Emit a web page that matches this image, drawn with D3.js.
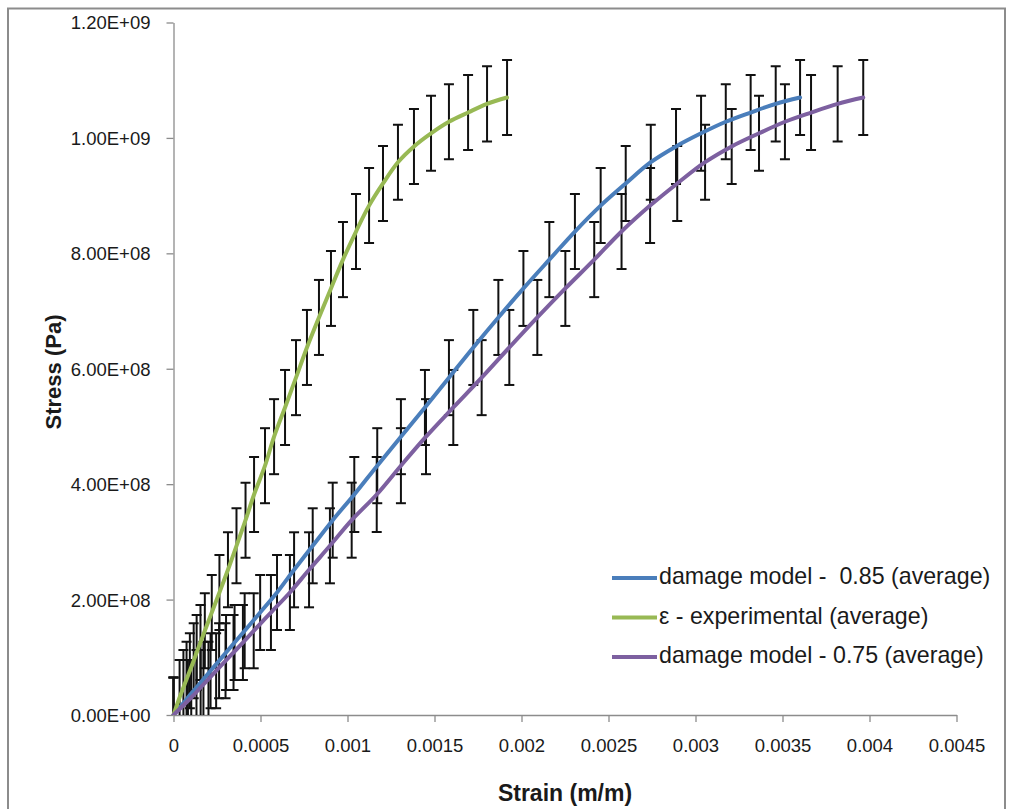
<!DOCTYPE html>
<html>
<head>
<meta charset="utf-8">
<script src="https://cdn.jsdelivr.net/npm/d3@7"></script>
<style>
  html, body { margin: 0; padding: 0; background: #ffffff; }
  svg { display: block; font-family: "Liberation Sans", Arial, sans-serif; }
</style>
</head>
<body>
<svg id="chart" width="1013" height="809"></svg>
<script>
// Shared stress levels (Pa) reached at each load step
const stress = [
  0, 0.303e8, 0.477e8, 0.620e8, 0.766e8, 0.939e8, 1.083e8, 1.256e8, 1.459e8,
  1.776e8, 2.123e8, 2.516e8, 2.932e8, 3.376e8, 3.821e8, 4.320e8, 4.823e8,
  5.329e8, 5.846e8, 6.369e8, 6.889e8, 7.392e8, 7.891e8, 8.378e8, 8.827e8,
  9.211e8, 9.579e8, 9.853e8, 10.08e8, 10.28e8, 10.44e8, 10.59e8, 10.70e8
];

// Average strain (m/m) at each stress level
const strainModel085 = [
  0, 0.000083, 0.000132, 0.000172, 0.000213, 0.000262, 0.000302, 0.000351,
  0.000409, 0.000498, 0.000595, 0.000693, 0.000800, 0.000915, 0.001039,
  0.001171, 0.001307, 0.001445, 0.001583, 0.001723, 0.001867, 0.002011,
  0.002160, 0.002307, 0.002455, 0.002599, 0.002743, 0.002888, 0.003032,
  0.003174, 0.003317, 0.003461, 0.003601
];
const strainExperimental = [
  0, 0.000035, 0.000057, 0.000075, 0.000094, 0.000116, 0.000133, 0.000155,
  0.000180, 0.000220, 0.000264, 0.000313, 0.000362, 0.000414, 0.000463,
  0.000526, 0.000578, 0.000641, 0.000704, 0.000767, 0.000836, 0.000905,
  0.000974, 0.001049, 0.001124, 0.001204, 0.001290, 0.001382, 0.001480,
  0.001583, 0.001693, 0.001802, 0.001917
];
const strainModel075 = [
  0, 0.000102, 0.000156, 0.000201, 0.000245, 0.000299, 0.000345, 0.000399,
  0.000461, 0.000560, 0.000669, 0.000779, 0.000899, 0.001024, 0.001168,
  0.001307, 0.001451, 0.001608, 0.001771, 0.001930, 0.002091, 0.002252,
  0.002418, 0.002575, 0.002739, 0.002895, 0.003055, 0.003208, 0.003365,
  0.003514, 0.003664, 0.003817, 0.003964
];

// Fixed stress error (Pa) shown on every point
const stressError = 6.5e7;

const seriesNames = [
  "damage model -  0.85 (average)",
  "\u03b5 - experimental (average)",
  "damage model - 0.75 (average)"
];
const seriesColors = ["#4a7ebb", "#98b954", "#7d60a0"];

const xTicks = [0, 0.0005, 0.001, 0.0015, 0.002, 0.0025, 0.003, 0.0035, 0.004, 0.0045];
const yTicks = [0, 2e8, 4e8, 6e8, 8e8, 10e8, 12e8];

const xTitle = "Strain (m/m)";
const yTitle = "Stress (Pa)";

// ---- layout ----
const plot = { left: 173.5, right: 956.5, top: 22.5, bottom: 715 };
const W = plot.right - plot.left, H = plot.bottom - plot.top;

const svg = d3.select("#chart");

// outer chart frame
svg.append("rect")
  .attr("x", 8).attr("y", 8.5)
  .attr("width", 997).attr("height", 820)
  .attr("fill", "none").attr("stroke", "#8c8c8c").attr("stroke-width", 2);

const x = d3.scaleLinear().domain([0, 0.0045]).range([0, W]);
const y = d3.scaleLinear().domain([0, 1.2e9]).range([H, 0]);

const g = svg.append("g").attr("transform", `translate(${plot.left},${plot.top})`);

svg.append("defs").append("clipPath").attr("id", "plotclip")
  .append("rect").attr("x", -20).attr("y", -20).attr("width", W + 40).attr("height", H + 20);

// ---- axes ----
const sciFmt = v => {
  if (v === 0) return "0.00E+00";
  const e = Math.floor(Math.log10(v));
  const m = v / Math.pow(10, e);
  return m.toFixed(2) + "E+" + String(e).padStart(2, "0");
};
const decFmt = v => String(+v.toFixed(4));

const xAxis = g.append("g").attr("transform", `translate(0,${H})`)
  .call(d3.axisBottom(x).tickValues(xTicks).tickFormat(decFmt).tickSize(7).tickSizeOuter(0));
const yAxis = g.append("g")
  .call(d3.axisLeft(y).tickValues(yTicks).tickFormat(sciFmt).tickSize(7).tickSizeOuter(0));

[xAxis, yAxis].forEach(a => {
  a.select(".domain").attr("stroke", "#8c8c8c").attr("stroke-width", 1.3);
  a.selectAll(".tick line").attr("stroke", "#8c8c8c").attr("stroke-width", 1.3);
  a.selectAll(".tick text")
    .attr("fill", "#1a1a1a")
    .style("font-family", "'Liberation Sans', Arial, sans-serif")
    .style("font-size", "18.5px");
});
xAxis.selectAll(".tick text").attr("dy", null).attr("y", 32).attr("dominant-baseline", "middle");
yAxis.selectAll(".tick text").attr("x", -23).attr("dy", "0.35em");

// axis titles
svg.append("text")
  .attr("x", 565).attr("y", 795)
  .attr("text-anchor", "middle").attr("dominant-baseline", "middle")
  .attr("font-weight", "bold").attr("font-size", 23).attr("fill", "#1a1a1a")
  .text(xTitle);
svg.append("text")
  .attr("transform", "translate(55,372) rotate(-90)")
  .attr("text-anchor", "middle").attr("dominant-baseline", "middle")
  .attr("font-weight", "bold").attr("font-size", 22).attr("fill", "#1a1a1a")
  .text(yTitle);

// ---- data ----
const series = [strainModel085, strainExperimental, strainModel075].map((strain, i) => ({
  name: seriesNames[i],
  color: seriesColors[i],
  points: strain.map((s, k) => ({ strain: s, stress: stress[k] }))
}));

const marks = g.append("g").attr("clip-path", "url(#plotclip)");

// error bars
const capHalf = 5;
series.forEach(sr => {
  const eb = marks.append("g").attr("stroke", "#111").attr("stroke-width", 2).attr("fill", "none");
  sr.points.forEach(p => {
    const cx = x(p.strain);
    const y0 = y(p.stress + stressError), y1 = y(p.stress - stressError);
    eb.append("line").attr("x1", cx).attr("x2", cx).attr("y1", y0).attr("y2", y1);
    eb.append("line").attr("x1", cx - capHalf).attr("x2", cx + capHalf).attr("y1", y0).attr("y2", y0);
    eb.append("line").attr("x1", cx - capHalf).attr("x2", cx + capHalf).attr("y1", y1).attr("y2", y1);
  });
});

// smoothed series lines
const line = d3.line()
  .x(d => x(d.strain)).y(d => y(d.stress))
  .curve(d3.curveCatmullRom.alpha(0.5));

series.forEach(sr => {
  marks.append("path")
    .datum(sr.points)
    .attr("d", line)
    .attr("fill", "none")
    .attr("stroke", sr.color)
    .attr("stroke-width", 4)
    .attr("stroke-linejoin", "round")
    .attr("stroke-linecap", "round");
});

// ---- legend ----
const legend = svg.append("g").attr("transform", "translate(612,578)");
series.forEach((sr, i) => {
  const row = legend.append("g").attr("transform", `translate(0,${i * 39.5})`);
  row.append("line").attr("x1", 0).attr("x2", 45).attr("y1", 0).attr("y2", 0)
    .attr("stroke", sr.color).attr("stroke-width", 4);
  row.append("text").attr("x", 47).attr("y", 0)
    .attr("dominant-baseline", "middle")
    .attr("font-size", 23.2).attr("fill", "#1a1a1a")
    .style("white-space", "pre")
    .text(sr.name);
});
</script>
</body>
</html>
